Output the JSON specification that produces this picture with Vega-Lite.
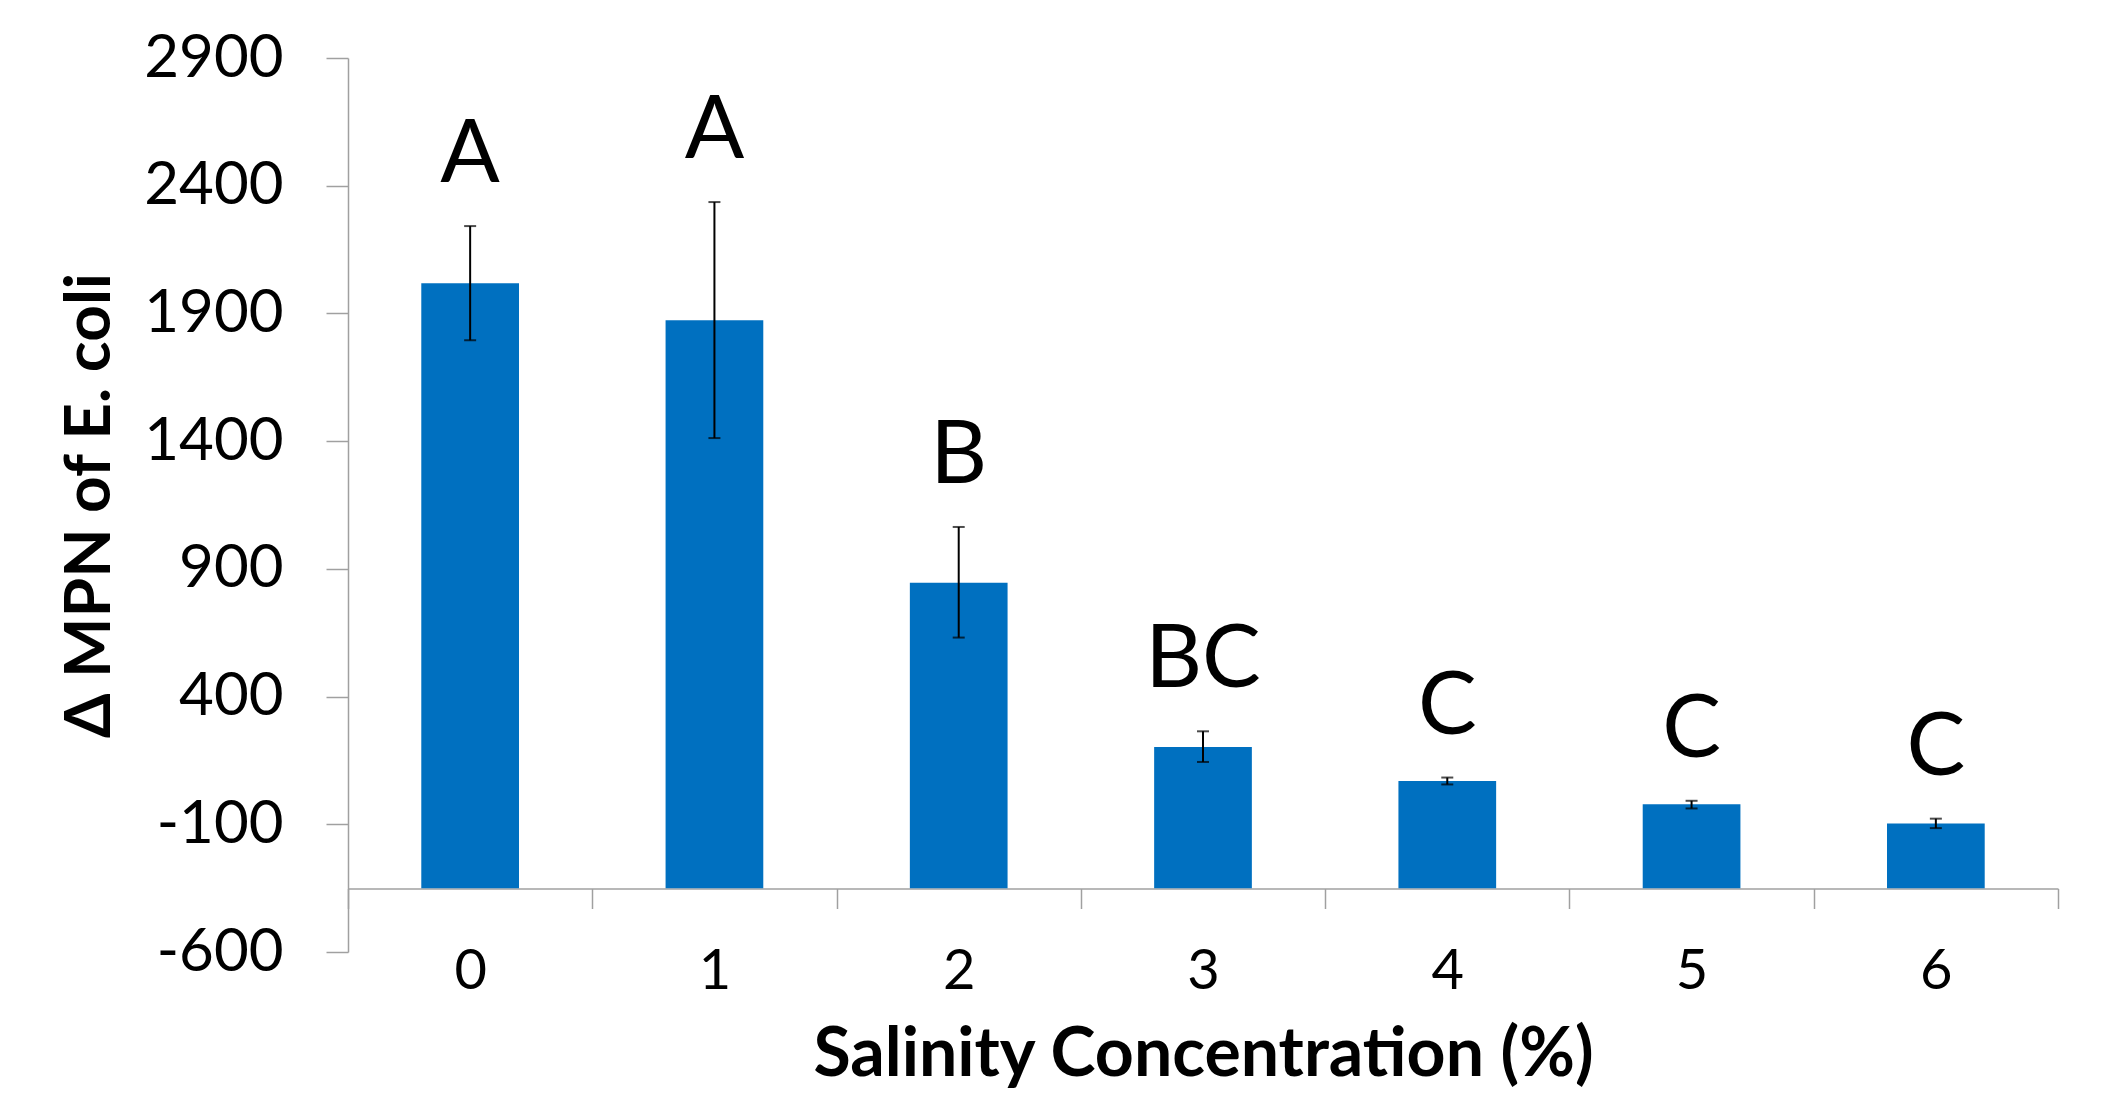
{
  "$schema": "https://vega.github.io/schema/vega-lite/v6.json",
  "autosize": {"type": "none"},
  "padding": {"left": 348, "top": 58, "right": 53, "bottom": 145},
  "width": 1710,
  "height": 894,
  "background": "white",
  "config": {
    "view": {"stroke": null},
    "font": "Lato",
    "axis": {"grid": false, "domainColor": "#A0A0A0", "tickColor": "#A0A0A0", "domainWidth": 1.5, "tickWidth": 1.5, "labelColor": "black", "titleColor": "black", "labelFont": "Lato", "titleFont": "Lato"}
  },
  "data": {
    "values": [
      {"salinity": "0", "mean": 2018, "lo": 1795, "hi": 2242, "group": "A"},
      {"salinity": "1", "mean": 1873, "lo": 1412, "hi": 2336, "group": "A"},
      {"salinity": "2", "mean": 846, "lo": 631, "hi": 1064, "group": "B"},
      {"salinity": "3", "mean": 203, "lo": 144, "hi": 264, "group": "BC"},
      {"salinity": "4", "mean": 69, "lo": 56, "hi": 83, "group": "C"},
      {"salinity": "5", "mean": -22, "lo": -38, "hi": -8, "group": "C"},
      {"salinity": "6", "mean": -97, "lo": -115, "hi": -78, "group": "C"}
    ]
  },
  "encoding": {
    "x": {
      "field": "salinity",
      "type": "ordinal",
      "sort": null,
      "scale": {"paddingInner": 0, "paddingOuter": 0},
      "axis": {
        "title": "Salinity Concentration (%)",
        "titleFontSize": 68,
        "titleFontWeight": "bold",
        "titlePadding": 22,
        "labelAngle": 0,
        "labelFontSize": 56,
        "labelPadding": 36,
        "tickSize": 20,
        "tickBand": "extent",
        "offset": -63.5
      }
    }
  },
  "layer": [
    {
      "mark": {"type": "bar", "color": "#0070C0", "width": {"band": 0.4}},
      "encoding": {
        "y": {
          "field": "mean",
          "type": "quantitative",
          "scale": {"domain": [-600, 2900], "nice": false, "zero": false},
          "axis": {
            "title": "Δ MPN of E. coli",
            "titleFontSize": 64,
            "titleFontWeight": "bold",
            "titlePadding": 26,
            "labelFontSize": 60,
            "labelPadding": 43,
            "tickSize": 22,
            "labelExpr": "'' + datum.value",
            "values": [-600, -100, 400, 900, 1400, 1900, 2400, 2900]
          }
        },
        "y2": {"datum": -350}
      }
    },
    {
      "mark": {"type": "rule", "color": "black", "strokeWidth": 2},
      "encoding": {
        "y": {"field": "lo", "type": "quantitative"},
        "y2": {"field": "hi"}
      }
    },
    {
      "mark": {"type": "tick", "color": "black", "orient": "horizontal", "size": 12, "thickness": 2},
      "encoding": {"y": {"field": "lo", "type": "quantitative"}}
    },
    {
      "mark": {"type": "tick", "color": "black", "orient": "horizontal", "size": 12, "thickness": 2},
      "encoding": {"y": {"field": "hi", "type": "quantitative"}}
    },
    {
      "mark": {"type": "text", "fontSize": 88, "font": "Lato", "baseline": "alphabetic", "dy": -44, "color": "black"},
      "encoding": {
        "y": {"field": "hi", "type": "quantitative"},
        "text": {"field": "group"}
      }
    }
  ]
}
